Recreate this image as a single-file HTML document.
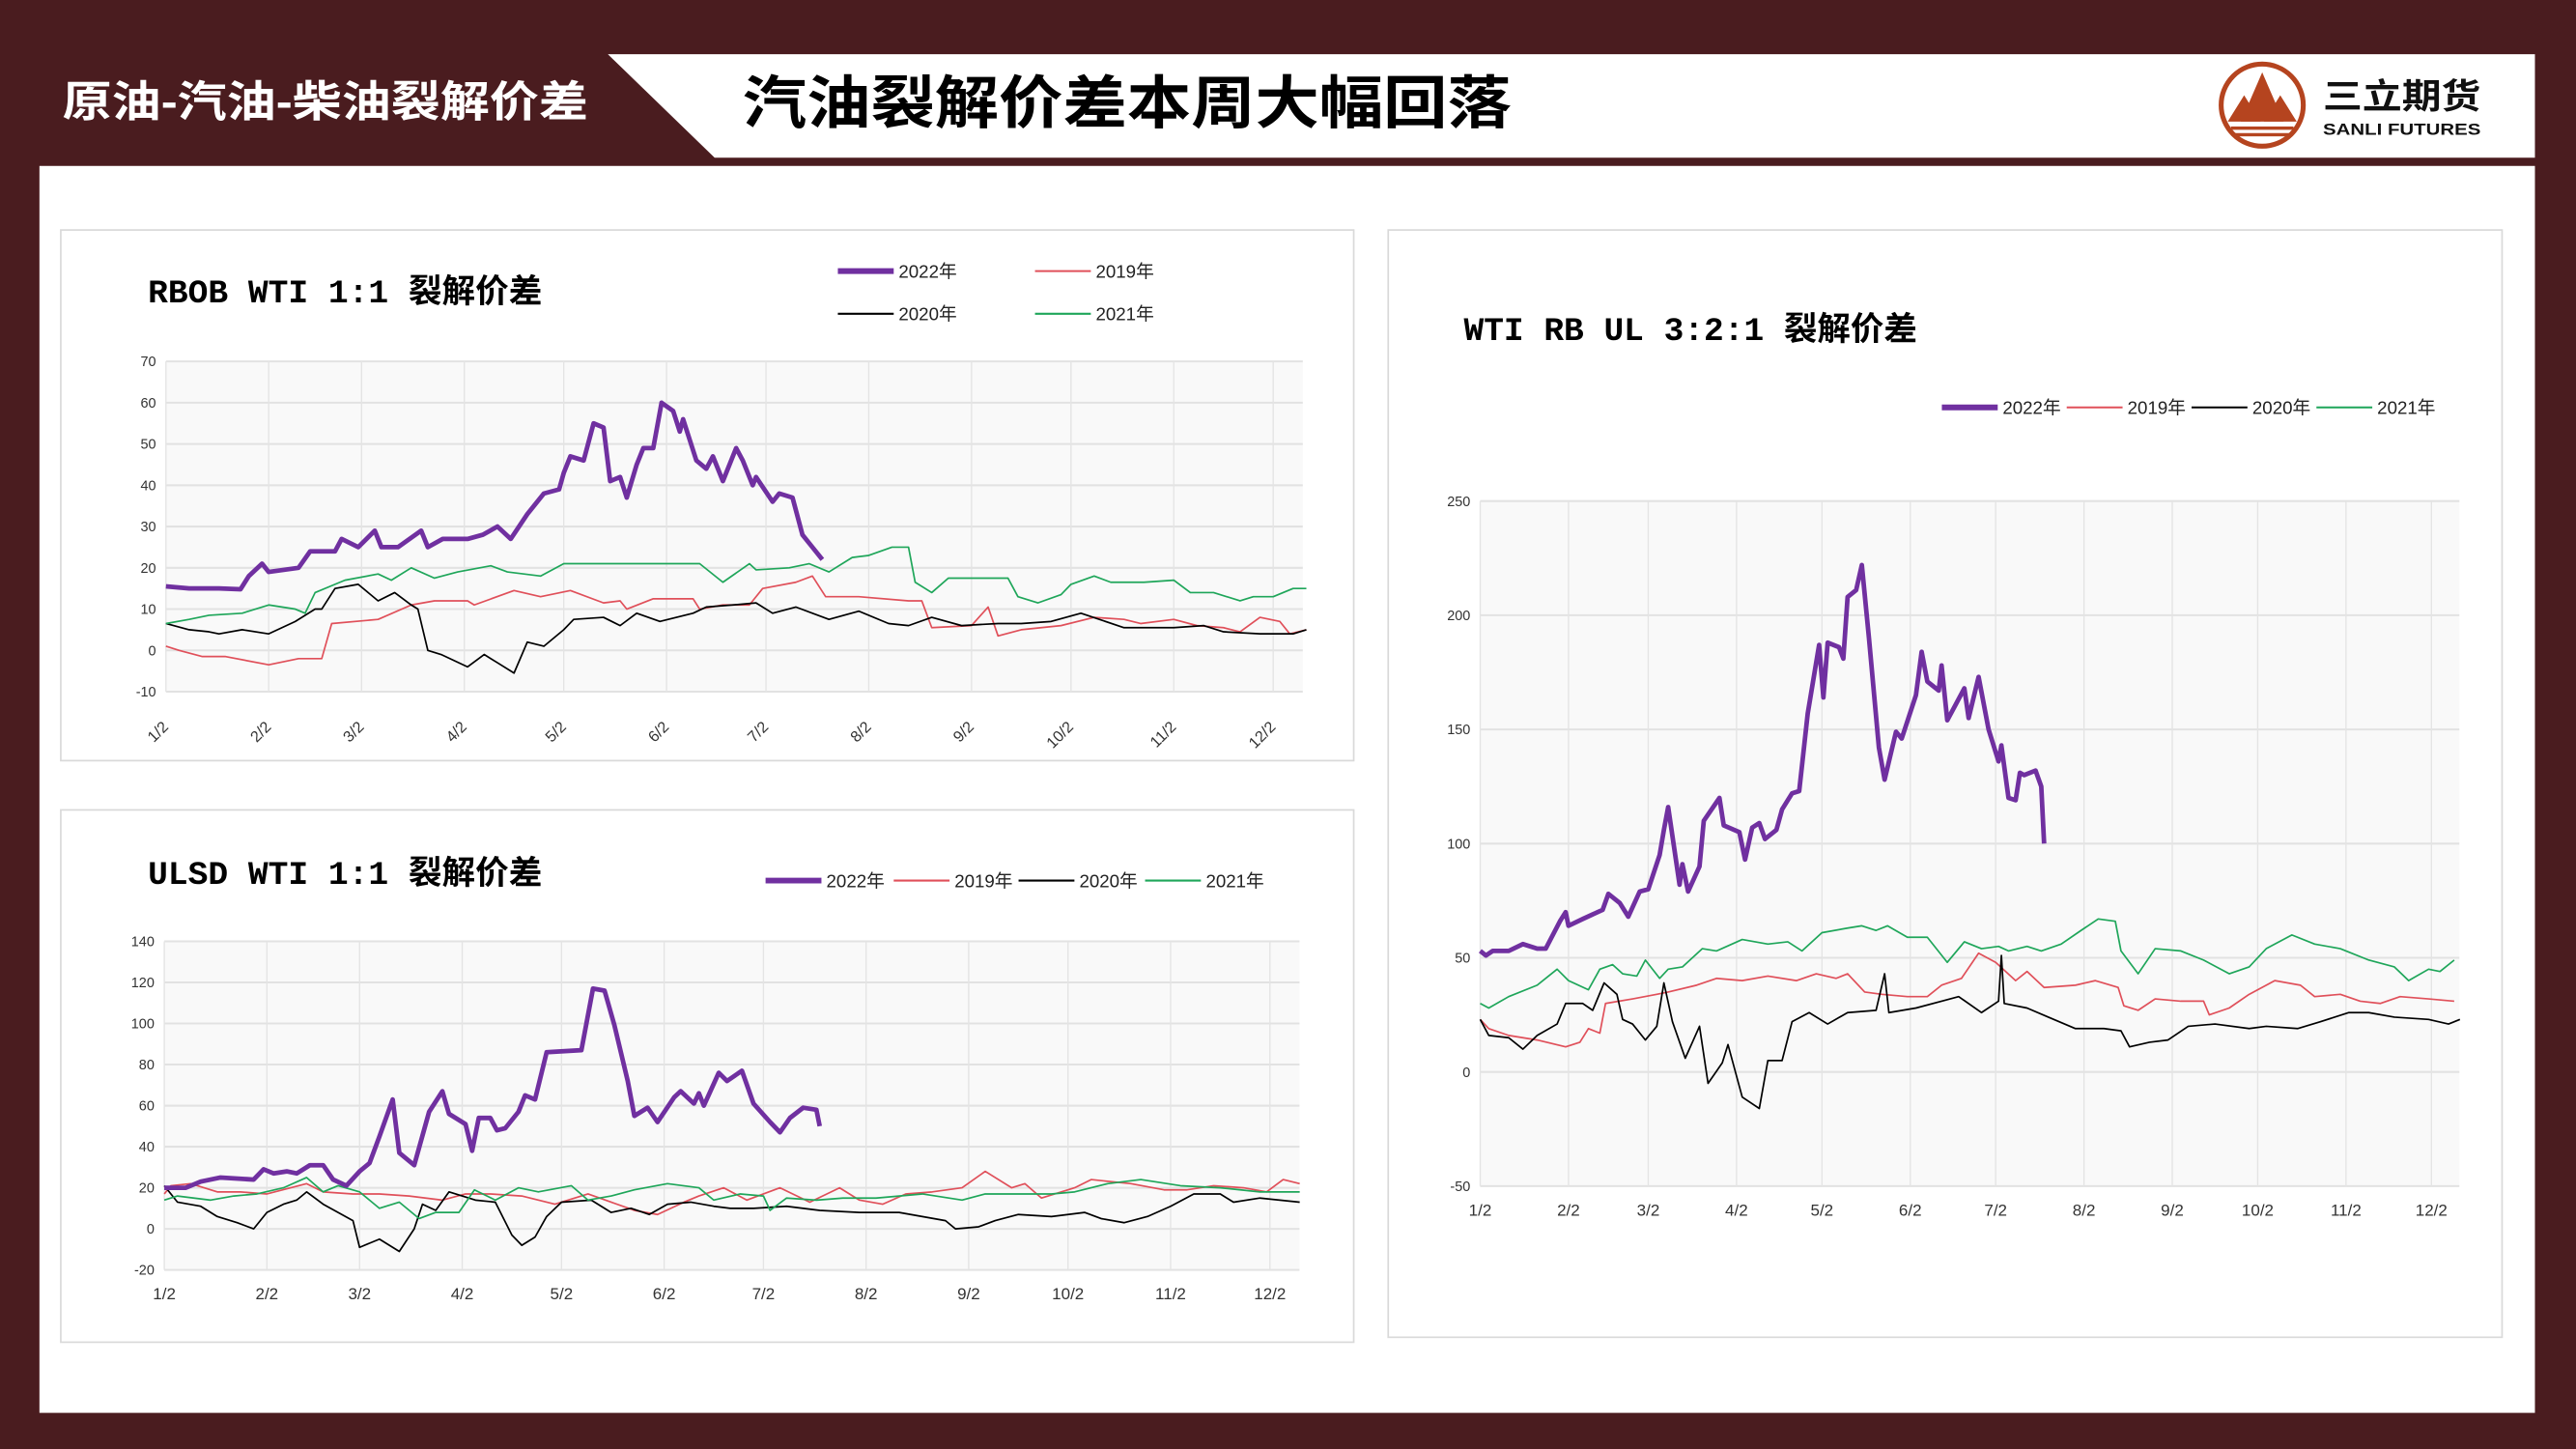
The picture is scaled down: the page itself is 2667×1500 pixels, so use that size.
<!DOCTYPE html>
<html><head><meta charset="utf-8">
<style>
html,body{margin:0;padding:0;background:#4a1c1f;}
svg{display:block;}
text{font-family:"Liberation Sans","Noto Sans CJK SC",sans-serif;}
.ttl{font-family:"Liberation Mono","Noto Sans CJK SC",monospace;font-weight:bold;}
</style></head>
<body>
<svg id="root" width="2667" height="1500" viewBox="0 0 1568 882" preserveAspectRatio="none" xmlns="http://www.w3.org/2000/svg">
<rect x="0" y="0" width="1568" height="882" fill="#4a1c1f"/>
<polygon points="370,33 1543,33 1543,96 435,96" fill="#ffffff"/>
<text x="38" y="71" font-size="26" fill="#ffffff" font-weight="bold" textLength="320" lengthAdjust="spacingAndGlyphs">原油-汽油-柴油裂解价差</text>
<text x="452" y="75" font-size="35" fill="#000" font-weight="bold" textLength="468" lengthAdjust="spacingAndGlyphs">汽油裂解价差本周大幅回落</text>
<g>
<circle cx="1377" cy="64" r="25" fill="none" stroke="#b5441f" stroke-width="3"/>
<polygon points="1377,44 1364,74 1390,74" fill="#b5441f"/>
<polygon points="1366,58 1356,74 1376,74" fill="#b5441f"/>
<polygon points="1388,58 1378,74 1398,74" fill="#b5441f"/>
<rect x="1358" y="77" width="38" height="2" fill="#b5441f"/>
<rect x="1360" y="81" width="34" height="2" fill="#b5441f"/>
<text x="1414" y="66" font-size="21" font-weight="bold" fill="#111" textLength="96" lengthAdjust="spacingAndGlyphs">三立期货</text>
<text x="1414" y="82" font-size="10" font-weight="bold" fill="#111" textLength="96" lengthAdjust="spacingAndGlyphs">SANLI FUTURES</text>
</g>
<rect x="24" y="101" width="1519" height="759" fill="#ffffff"/>
<rect x="37" y="140" width="787" height="323" fill="#fff" stroke="#d9d9d9"/>
<rect x="37" y="493" width="787" height="324" fill="#fff" stroke="#d9d9d9"/>
<rect x="845" y="140" width="678" height="674" fill="#fff" stroke="#d9d9d9"/>
<text class="ttl" x="90" y="184" font-size="20" textLength="240" lengthAdjust="spacingAndGlyphs">RBOB WTI 1:1 裂解价差</text>
<text class="ttl" x="90" y="538" font-size="20" textLength="240" lengthAdjust="spacingAndGlyphs">ULSD WTI 1:1 裂解价差</text>
<text class="ttl" x="891" y="207" font-size="20" textLength="276" lengthAdjust="spacingAndGlyphs">WTI RB UL 3:2:1 裂解价差</text>
<g id="charts"></g>
</svg>
<script>
const monthLabels = ["1/2","2/2","3/2","4/2","5/2","6/2","7/2","8/2","9/2","10/2","11/2","12/2"];
const monthDays = [0,31,59,90,120,151,181,212,243,273,304,334];
const seriesNames = ["2022年","2019年","2020年","2021年"];
const c1Ticks = [-10,0,10,20,30,40,50,60,70];
const c2Ticks = [-20,0,20,40,60,80,100,120,140];
const c3Ticks = [-50,0,50,100,150,200,250];

// Chart 1: RBOB WTI
const c1d2022 = [0,7,16,22.5,25,29,31,40,43.5,51,53,58,63,65,70,77,79,83.5,91,95.6,100,104,109,114,118.6,120,122,126,129,132,134,137,139,142,144,147,149.5,153,155,156,160,163,165,168,172,174,177,178,183,185,189,192,195,198];
const c1v2022 = [15.5,15,15,14.8,18,21,19,20,24,24,27,25,29,25,25,29,25,27,27,28,30,27,33,38,39,43,47,46,55,54,41,42,37,45,49,49,60,58,53,56,46,44,47,41,49,46,40,42,36,38,37,28,25,22];
const c1d2019 = [0,4,11,18,31,40,47,50,64,74,81,91,93,105,113,122,132,137,139,147,159,161,168,176,180,190,195,199,209,224,228,231,243,248,251,258,270,280,289,294,304,311,319,324,330,336,339,344];
const c1v2019 = [1,0,-1.5,-1.5,-3.5,-2,-2,6.5,7.5,11,12,12,11,14.5,13,14.5,11.5,12,10,12.5,12.5,10,11,11,15,16.5,18,13,13,12,12,5.5,6,10.5,3.5,5,6,8,7.5,6.5,7.5,6,5.5,4.5,8,7,4,5];
const c1d2020 = [0,7,13,16,23,31,39,45,47,51,58,64,69,74,76,79,83,91,96,100,105,109,114,120,123,132,137,142,149,159,163,171,178,183,190,200,209,218,224,231,240,251,258,267,276,289,304,313,319,330,340,344];
const c1v2020 = [6.5,5,4.5,4,5,4,7,10,10,15,16,12,14,11,10,0,-1,-4,-1,-3,-5.5,2,1,5,7.5,8,6,9,7,9,10.5,11,11.5,9,10.5,7.5,9.5,6.5,6,8,6,6.5,6.5,7,9,5.5,5.5,6,4.5,4,4,5];
const c1d2021 = [0,7,13,23,31,39,42,45,51,54,64,68,74,81,88,98,103,113,120,132,142,161,168,176,178,188,194,200,207,212,219,224,226,231,236,243,254,257,263,270,273,280,285,295,304,309,316,324,328,334,340,344];
const c1v2021 = [6.5,7.5,8.5,9,11,10,9,14,16,17,18.5,17,20,17.5,19,20.5,19,18,21,21,21,21,16.5,21,19.5,20,21,19,22.5,23,25,25,16.5,14,17.5,17.5,17.5,13,11.5,13.5,16,18,16.5,16.5,17,14,14,12,13,13,15,15];

// Chart 2: ULSD WTI
const c2d2022 = [0,6.5,11,17,27,30,33,37,40,44,48,51,55,59,62,65,69,71,75.5,80,84,86,91,93,95,98.5,100.5,103,107,109,112,115.5,126,129.5,133,136,140,142,146,149,154,156,160,161.5,163,167.5,170,174.5,178,183,186,189,193,197,198];
const c2v2022 = [20,20,23,25,24,29,27,28,27,31,31,24,21,28,32,45,63,37,31,57,67,56,51,38,54,54,48,49,57,65,63,86,87,117,116,99,72,55,59,52,64,67,61,66,60,76,72,77,61,52,47,54,59,58,50];
const c2d2019 = [0,2,8,16,23,31,43,48,57,65,74,84,91,98.5,108,118,128,135,142,149,157,161.5,169,176,186,195,204,210,217,224,232,241,248,256,260,265,275,280,292,302,309,317,326,333,338,343];
const c2v2019 = [17,21,22,18,18,17,22,18,17,17,16,14,17,17,16,12,17,13,9,7,13,16,20,14,20,13,20,14,12,17,18,20,28,20,22,15,20,24,22,19,19,21,20,18,24,22];
const c2d2020 = [0,4,11,16,22,27,31,36,40,43,48,52.5,57,59,65,71,75.5,78,82,86,94,100,105,108,112,115.5,120,129,135,141,146.5,152,159,166,171,178,188,198,210,222,229,236,239,246,251,258,268,278,283,290,297,304,311,319,323,331,343];
const c2v2020 = [21,13,11,6,3,0,8,12,14,18,12,8,4,-9,-5,-11,0,12,9,18,14,13,-3,-8,-4,6,13,14,8,10,7,12,13,11,10,10,11,9,8,8,6,4,0,1,4,7,6,8,5,3,6,11,17,17,13,15,13];
const c2d2021 = [0,4,14,21,28,36,43,48,52.5,59,65,71,77,82,89,93.7,100,107,113,123,128,135,142,152,161.5,166,174,181,183,188,197,205,215,229,241,248,258,268,275,285,295,307,319,331,343];
const c2v2021 = [14,16,14,16,17,20,25,18,21,18,10,13,5,8,8,19,14,20,18,21,14,16,19,22,20,14,17,16,9,15,14,15,15,17,14,17,17,17,18,22,24,21,20,18,18];

// Chart 3: WTI RB UL 3:2:1
const c3d2022 = [0,2,4.4,10,15,20,23,28,30,31,36,39.5,43,45,49,52,56,59,63,64.5,66,70,71,73,77,78.5,84,85.5,91,93,95.5,98,100,104,106,109.5,112,115,119,120.5,122,126,127.5,129,132,134,136.5,140,142,146,148,153,155,157,161,162,164,167,170,171.5,175,178.5,182,183,185.5,188,189.5,191,195,197,198];
const c3v2022 = [53,51,53,53,56,54,54,66,70,64,67,69,71,78,74,68,79,80,95,106,116,82,91,79,90,110,120,108,105,93,107,109,102,106,115,122,123,157,187,164,188,186,181,208,211,222,190,142,128,149,146,165,184,171,167,178,154,161,168,155,173,150,136,143,120,119,131,130,132,125,100];
const c3d2019 = [0,3,10,20,30,35,38,42,44,53.5,62,66,76,83,92,101,111,118,125,129,135,141,150,157,162,169,175,181,188,192,198,209,216,224,226,231,237,246,254,256,263,270,279,288,293,302,309,316,323,333,342];
const c3v2019 = [23,19,16,14,11,13,19,17,30,32,34,35,38,41,40,42,40,43,41,43,35,34,33,33,38,41,52,48,40,44,37,38,40,37,29,27,32,31,31,25,28,34,40,38,33,34,31,30,33,32,31];
const c3d2020 = [0,3,10,15,20,27,30,36,39.5,43.5,48,50,53.5,58,62,64.5,67.5,72,77,80,85,87,92,98,101,106,109.5,115.5,122,129,139,142,143.5,153,162,168,176,182,183,184,192,199.5,209,219,225,228,235,241.5,248.6,258,270,276,287,295,305,312,321,333,340,344];
const c3v2020 = [23,16,15,10,16,21,30,30,27,39,34,23,21,14,20,39,22,6,20,-5,4,12,-11,-16,5,5,22,26,21,26,27,43,26,28,31,33,26,31,51,30,28,24,19,19,18,11,13,14,20,21,19,20,19,22,26,26,24,23,21,23];
const c3d2021 = [0,3,10,20,27,31,38,42,46.5,50,55,58,63,66,71,78,83,92,101,108,113,120,129,134,139,143,150,157,164,170,176,182,185.5,192,197,204,211,217,223,225,231,237,246,254,263,270,276,285,293,302,312,321,326,333,337,342];
const c3v2021 = [30,28,33,38,45,40,36,45,47,43,42,49,41,45,46,54,53,58,56,57,53,61,63,64,62,64,59,59,48,57,54,55,53,55,53,56,62,67,66,53,43,54,53,49,43,46,54,60,56,54,49,46,40,45,44,49];

const colors = ["#7030a0","#e0505a","#000000","#1fa65a"];
const widths = [2.8,1,1,1];
const NS = "http://www.w3.org/2000/svg";
const root = document.getElementById("charts");

function mk(tag, attrs, parent){
  const e = document.createElementNS(NS, tag);
  for (const k in attrs) e.setAttribute(k, attrs[k]);
  (parent||root).appendChild(e);
  return e;
}

function drawChart(cfg){
  const g = mk("g", {});
  
  
  const x = d => cfg.x0 + (d - 0) * (cfg.x12 - cfg.x0) / 334;
  const y = v => cfg.bottom - (v - cfg.ymin) * (cfg.bottom - cfg.top) / (cfg.ymax - cfg.ymin);
  const plot = mk("rect", {x:cfg.x0, y:cfg.top, width:cfg.right-cfg.x0, height:cfg.bottom-cfg.top, fill:"#f9f9f9"}, g);
  
  
  cfg.ticks.forEach(t => {
    const ln = mk("line", {x1:cfg.x0, x2:cfg.right, y1:y(t), y2:y(t), stroke:"#e2e2e2", "stroke-width":1.2}, g);
    
    
    const tx = mk("text", {x:cfg.x0-6, y:y(t)+3, "font-size":8.5, "text-anchor":"end", fill:"#333"}, g);
    tx.textContent = t;
    
    
  });
  monthDays.forEach((d,i) => {
    const ln = mk("line", {x1:x(d), x2:x(d), y1:cfg.top, y2:cfg.bottom, stroke:"#e4e4e4", "stroke-width":0.8}, g);
    
    
    let tx;
    if (cfg.rotate) {
      tx = mk("text", {x:x(d)+2, y:cfg.bottom+22, "font-size":9.5, "text-anchor":"end", fill:"#333", transform:"rotate(-45 "+(x(d)+2)+" "+(cfg.bottom+22)+")"}, g);
    } else {
      tx = mk("text", {x:x(d), y:cfg.bottom+18, "font-size":10, "text-anchor":"middle", fill:"#333"}, g);
    }
    tx.textContent = monthLabels[i];
    
    
  });
  [1,2,3,0].forEach(si => {
    const ds = cfg.days[si], vs = cfg.vals[si];
    const pts = ds.map((d,k) => x(d).toFixed(2)+","+y(vs[k]).toFixed(2)).join(" ");
    const pl = mk("polyline", {points:pts, fill:"none", stroke:colors[si], "stroke-width":widths[si], "stroke-linejoin":"round"}, g);
    
    
  });
  cfg.legend.forEach((p,si) => {
    const lg = mk("g", {}, g);
    
    
    mk("line", {x1:p[0], x2:p[0]+34, y1:p[1], y2:p[1], stroke:colors[si], "stroke-width":si===0?3.5:1.2}, lg);
    const tx = mk("text", {x:p[0]+37, y:p[1]+4, "font-size":11, fill:"#222"}, lg);
    tx.textContent = seriesNames[si];
  });
}

drawChart({name:"rbob-chart", x0:101, x12:775, right:793, top:220, bottom:421, ymin:-10, ymax:70, ticks:c1Ticks, rotate:true,
  days:[c1d2022,c1d2019,c1d2020,c1d2021], vals:[c1v2022,c1v2019,c1v2020,c1v2021],
  legend:[[510,165],[630,165],[510,191],[630,191]]});
drawChart({name:"ulsd-chart", x0:100, x12:773, right:791, top:573, bottom:773, ymin:-20, ymax:140, ticks:c2Ticks, rotate:false,
  days:[c2d2022,c2d2019,c2d2020,c2d2021], vals:[c2v2022,c2v2019,c2v2020,c2v2021],
  legend:[[466,536],[544,536],[620,536],[697,536]]});
drawChart({name:"crack321-chart", x0:901, x12:1480, right:1497, top:305, bottom:722, ymin:-50, ymax:250, ticks:c3Ticks, rotate:false,
  days:[c3d2022,c3d2019,c3d2020,c3d2021], vals:[c3v2022,c3v2019,c3v2020,c3v2021],
  legend:[[1182,248],[1258,248],[1334,248],[1410,248]]});
</script>
</body></html>
